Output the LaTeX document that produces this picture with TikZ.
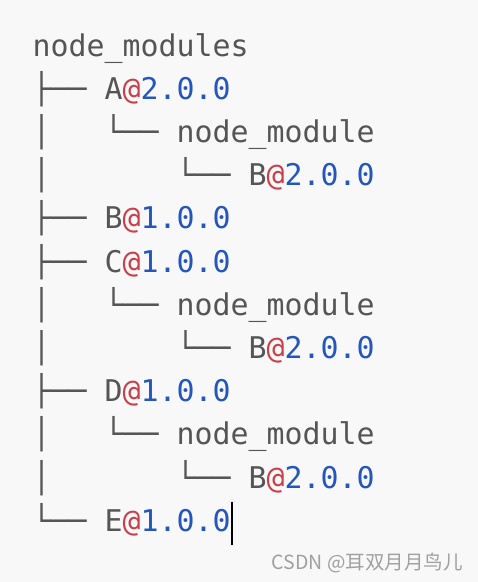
\documentclass[tikz,border=0pt]{standalone}
\usepackage{fontspec}
\newfontfamily\codefont{DejaVu Sans Mono}
\newfontfamily\cjk{Noto Sans CJK SC}
\definecolor{txt}{HTML}{555555}
\definecolor{atc}{HTML}{C9404A}
\definecolor{ver}{HTML}{2457BE}
\definecolor{bgc}{HTML}{F8F8F8}
\definecolor{wm}{HTML}{A0A0A0}
\newcommand\pkgname[2]{#1\textcolor{atc}{@}\textcolor{ver}{#2}}
\begin{document}
\begin{tikzpicture}[x=1pt,y=-1pt,
  codeline/.style={anchor=base west, inner sep=0pt, text=txt,
    font=\codefont\fontsize{29.9}{36}\selectfont}]
\fill[bgc] (0,0) rectangle (478,582);
% columns: x = 32.5 + 18*col ; baselines: 56 + 43.2*row
\node[codeline] (l1) at (32.5,56) {node\_modules};
\node[codeline] (l2) at (32.5,99.2) {├── \pkgname{A}{2.0.0}};
\node[codeline] (v3) at (32.5,142.4) {│};
\node[codeline] (l3) at (104.5,142.4) {└── node\_module};
\node[codeline] (v4) at (32.5,185.6) {│};
\node[codeline] (l4) at (176.5,185.6) {└── \pkgname{B}{2.0.0}};
\node[codeline] (l5) at (32.5,228.8) {├── \pkgname{B}{1.0.0}};
\node[codeline] (l6) at (32.5,272) {├── \pkgname{C}{1.0.0}};
\node[codeline] (v7) at (32.5,315.2) {│};
\node[codeline] (l7) at (104.5,315.2) {└── node\_module};
\node[codeline] (v8) at (32.5,358.4) {│};
\node[codeline] (l8) at (176.5,358.4) {└── \pkgname{B}{2.0.0}};
\node[codeline] (l9) at (32.5,401.6) {├── \pkgname{D}{1.0.0}};
\node[codeline] (v10) at (32.5,444.8) {│};
\node[codeline] (l10) at (104.5,444.8) {└── node\_module};
\node[codeline] (v11) at (32.5,488) {│};
\node[codeline] (l11) at (176.5,488) {└── \pkgname{B}{2.0.0}};
\node[codeline] (l12) at (32.5,531.2) {└── \pkgname{E}{1.0.0}};
\coordinate (cur) at ([xshift=1.2pt]l12.base east);
\draw[black, line width=1.6pt] ([yshift=-14pt]cur) -- ([yshift=29pt]cur);
\node[anchor=base east, inner sep=0pt, text=wm, font=\cjk\fontsize{19.5}{22}\selectfont] (wmk) at (463,569) {CSDN @耳双月月鸟儿};
\end{tikzpicture}
\end{document}
